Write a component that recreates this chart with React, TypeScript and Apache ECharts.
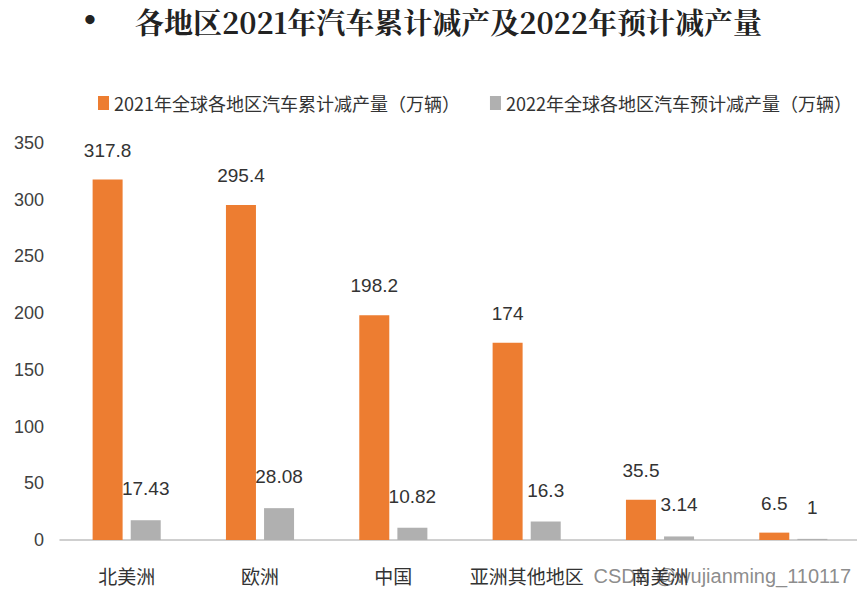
import React, { useEffect, useRef } from "react";
import * as echarts from "echarts";

const titleBullet = "•";
const titleText = "各地区2021年汽车累计减产及2022年预计减产量";
const categories = ["北美洲", "欧洲", "中国", "亚洲其他地区", "南美洲", ""];
const series2021Name = "2021年全球各地区汽车累计减产量（万辆）";
const series2022Name = "2022年全球各地区汽车预计减产量（万辆）";
const values2021 = [317.8, 295.4, 198.2, 174, 35.5, 6.5];
const values2022 = [17.43, 28.08, 10.82, 16.3, 3.14, 1];
const watermark = "CSDN @wujianming_110117";

const numFont = "'Liberation Sans Narrow', 'Liberation Sans', Arial, sans-serif";
const cjkFont = "'Noto Sans CJK SC', 'Liberation Sans Narrow', sans-serif";

export default function App() {
  const ref = useRef<HTMLDivElement>(null);
  useEffect(() => {
    if (!ref.current) return;
    const chart = echarts.init(ref.current, null, { renderer: "svg" });
    chart.setOption({
      animation: false,
      backgroundColor: "#ffffff",
      title: {
        text: titleText,
        left: 130,
        top: 2,
        textStyle: {
          fontFamily: "'Noto Serif CJK SC', 'Noto Sans CJK SC', serif",
          fontSize: 29,
          fontWeight: "bold",
          color: "#222",
        },
      },
      legend: {
        top: 94,
        left: 98,
        width: 780,
        padding: 0,
        itemWidth: 11,
        itemHeight: 14,
        itemGap: 30,
        icon: "rect",
        textStyle: { fontFamily: cjkFont, fontSize: 18, color: "#333" },
        data: [series2021Name, series2022Name],
      },
      grid: { left: 60, right: 5, top: 143, bottom: 58 },
      xAxis: {
        type: "category",
        data: categories,
        axisLine: { lineStyle: { color: "#c0c0c0", width: 1.5 } },
        axisTick: { show: false },
        axisLabel: {
          fontFamily: cjkFont,
          fontSize: 19,
          color: "#333",
          margin: 26,
          interval: 0,
        },
      },
      yAxis: {
        type: "value",
        min: 0,
        max: 350,
        interval: 50,
        splitLine: { show: false },
        axisLine: { show: false },
        axisTick: { show: false },
        axisLabel: {
          fontFamily: numFont,
          fontSize: 18,
          color: "#404040",
          margin: 16,
        },
      },
      series: [
        {
          name: series2021Name,
          type: "bar",
          data: values2021,
          barWidth: 30,
          barGap: "27%",
          itemStyle: { color: "#ED7D31" },
          label: {
            show: true,
            position: "top",
            distance: 20,
            fontFamily: numFont,
            fontSize: 19,
            color: "#333",
          },
        },
        {
          name: series2022Name,
          type: "bar",
          data: values2022,
          barWidth: 30,
          itemStyle: { color: "#B0B0B0" },
          label: {
            show: true,
            position: "top",
            distance: 22,
            fontFamily: numFont,
            fontSize: 19,
            color: "#333",
          },
        },
      ],
      graphic: [
        {
          type: "text",
          left: 84,
          top: 2,
          style: {
            text: titleBullet,
            fontFamily: "'Liberation Serif', serif",
            fontSize: 34,
            fontWeight: "bold",
            fill: "#222",
          },
        },
        {
          type: "text",
          right: 14,
          top: 566,
          style: {
            text: watermark,
            fontFamily: "'Liberation Sans', Arial, sans-serif",
            fontSize: 20,
            fill: "rgba(110,110,110,0.8)",
          },
        },
      ],
    });
    return () => chart.dispose();
  }, []);
  return <div ref={ref} style={{ width: 865, height: 598, margin: -8 }} />;
}
